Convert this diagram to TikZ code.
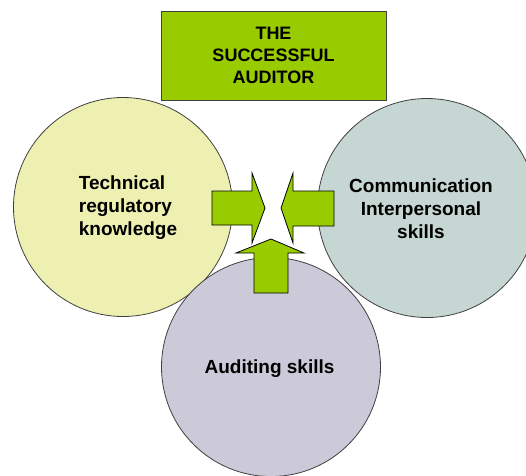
\documentclass[tikz,border=0pt]{standalone}
\usepackage{fontspec}
\setmainfont{Liberation Sans}
\usepackage{tikz}
\usetikzlibrary{positioning}

\definecolor{auditgreen}{HTML}{99CC00}
\definecolor{techyellow}{HTML}{EEF0B2}
\definecolor{commgrey}{HTML}{C6D7D3}
\definecolor{skilllilac}{HTML}{CCC9D9}
\definecolor{rim}{HTML}{404040}

\tikzset{
  skill/.style={circle,draw=rim,line width=.8pt,minimum size=219pt,inner sep=0pt},
  skilltext/.style={font=\fontsize{19}{23}\selectfont\bfseries},
  blockarrow/.style={fill=auditgreen,draw=black,line width=.8pt,line join=miter}
}

\begin{document}
\begin{tikzpicture}[x=1pt,y=-1pt]
\useasboundingbox (0,0) rectangle (526,475);
\clip (0,0) rectangle (526,475);

\node[draw=rim,fill=auditgreen,line width=.8pt,minimum width=225pt,minimum height=89pt,
  align=center,font=\fontsize{18}{22}\selectfont\bfseries] (title) at (273.5,55.5)
  {THE\\SUCCESSFUL\\AUDITOR};

\node[skill,fill=techyellow] (tech) at (123,207) {};
\node[skilltext,align=left] (techtxt) at (128,208) {Technical\\regulatory\\knowledge};
\node[skill,fill=commgrey] (comm) at (427,208) {};
\node[skilltext,align=center] (commtxt) at (421,209) {Communication\\Interpersonal\\skills};
\node[skill,fill=skilllilac] (audit) at (271,367) {};
\node[skilltext] (audittxt) at (269.5,369) {Auditing skills};

% arrows pointing to the middle
\coordinate (mid) at (273,208);
\draw[blockarrow] ([shift={(-61,-17)}]mid) -- ++(40,0) -- ++(0,-18) -- ([shift={(-8,0)}]mid)
  -- ([shift={(-21,35)}]mid) -- ++(0,-18) -- ++(-40,0) -- cycle;
\draw[blockarrow] ([shift={(61,-17)}]mid) -- ++(-41,0) -- ++(0,-18) -- ([shift={(8,0)}]mid)
  -- ([shift={(20,35)}]mid) -- ++(0,-17) -- ++(41,0) -- cycle;
\draw[blockarrow] ([shift={(-19,85)}]mid) -- ++(0,-40) -- ++(-18,0) -- ([shift={(-2,31)}]mid)
  -- ([shift={(31,45)}]mid) -- ++(-16,0) -- ++(0,40) -- cycle;
\end{tikzpicture}
\end{document}
